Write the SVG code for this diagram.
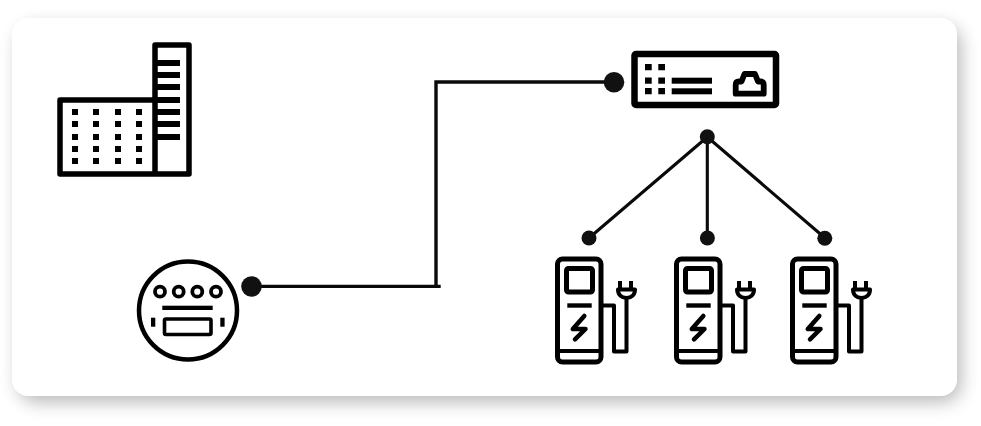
<svg xmlns="http://www.w3.org/2000/svg" width="981" height="426" viewBox="0 0 981 426">
<style>
.s{fill:none;stroke:#000;stroke-linejoin:round}
.k{fill:#000}
.c{fill:none;stroke:#0a0a0a;stroke-width:3.400}
.d{fill:#111}
</style>
<defs>
<filter id="sh" x="-5%" y="-10%" width="110%" height="125%"><feGaussianBlur stdDeviation="9"/></filter>
<g id="charger">
<rect class="s" x="557.500" y="259" width="43.500" height="103" rx="5" stroke-width="5"/>
<rect class="s" x="566.500" y="268.500" width="26" height="23.500" rx="2" stroke-width="5"/>
<rect class="k" x="567.300" y="303.300" width="24.400" height="4.400"/>
<path class="s" d="M584.300 316 572.800 329H585.500L575 339.300" stroke-width="4.500" stroke-linecap="round"/>
<path class="s" d="M557.500 351H601" stroke-width="4"/>
<path class="s" d="M601 305.500H614V351.500H626.500V298" stroke-width="4"/>
<path class="s" d="M620 281V289M631 281V289" stroke-width="4"/>
<path class="s" d="M618 289.500H635C635 295 631 298 626.500 298C622 298 618 295 618 289.500Z" stroke-width="4"/>
</g>
</defs>
<rect width="981" height="426" fill="#fff"/>
<rect x="18" y="26" width="943" height="376" rx="18" fill="#000" opacity=".28" filter="url(#sh)"/>
<rect x="12" y="18" width="945" height="378" rx="16" fill="#fff"/>

<g id="connectors">
<path class="c" d="M250 286.400H440.700M436 286.400V80.300M434.300 82H614"/>
<path class="c" style="stroke-width:3.100" d="M707.300 137 589 238M707.300 137V238M707.300 137 825 238"/>
<circle class="d" cx="707.300" cy="136.700" r="7.500"/>
<circle class="d" cx="589" cy="238" r="7.500"/>
<circle class="d" cx="707.400" cy="238" r="7.500"/>
<circle class="d" cx="824.800" cy="238.200" r="7.500"/>
<circle class="d" cx="251.500" cy="286.500" r="10.300"/>
<circle class="d" cx="614" cy="82.300" r="10.300"/>
</g>

<g id="building">
<path class="s" stroke-width="5.500" d="M155 100H60V174H189V45H155ZM155 100V174"/>
<path class="k" d="M157 60H180V66H157ZM157 72H180V78H157ZM157 84H180V90H157ZM157 97H180V103H157ZM157 109H180V115H157ZM157 121H180V127H157ZM157 134H180V140H157Z"/>
<path class="k" d="M72 109h6v6h-6zM93 109h6v6h-6zM115 109h6v6h-6zM136 109h6v6h-6zM72 121h6v6h-6zM93 121h6v6h-6zM115 121h6v6h-6zM136 121h6v6h-6zM72 134h6v6h-6zM93 134h6v6h-6zM115 134h6v6h-6zM136 134h6v6h-6zM72 146h6v6h-6zM93 146h6v6h-6zM115 146h6v6h-6zM136 146h6v6h-6zM72 158h6v6h-6zM93 158h6v6h-6zM115 158h6v6h-6zM136 158h6v6h-6z"/>
</g>

<g id="meter">
<circle class="s" cx="188" cy="310.500" r="49" stroke-width="4.500"/>
<circle class="s" cx="160" cy="291.700" r="5" stroke-width="3.800"/>
<circle class="s" cx="178.700" cy="291.700" r="5" stroke-width="3.800"/>
<circle class="s" cx="197.300" cy="291.700" r="5" stroke-width="3.800"/>
<circle class="s" cx="216" cy="291.700" r="5" stroke-width="3.800"/>
<rect class="k" x="162.300" y="305.700" width="50.400" height="4.300"/>
<rect class="s" x="164.500" y="319" width="46.500" height="15.500" rx="1.500" stroke-width="3.600"/>
<rect class="k" x="151" y="317.700" width="4.300" height="9"/>
<rect class="k" x="220.300" y="317.700" width="4.300" height="9"/>
</g>

<g id="gateway">
<rect class="s" x="634.500" y="54" width="141.500" height="51" rx="1.500" stroke-width="6.500"/>
<path class="k" d="M645 64h6.700v6.200H645zM658.300 64H665v6.200h-6.700zM645 77.500h6.700v6.300H645zM658.300 77.500H665v6.300h-6.700zM645 88h6.700v6.200H645zM658.300 88H665v6.200h-6.700z"/>
<rect class="k" x="671.700" y="77.700" width="40.300" height="6"/>
<rect class="k" x="671.700" y="88.300" width="40.300" height="6"/>
<path class="s" stroke-width="5.800" d="M735.700 93.700V85Q735.700 81.500 739 81.500H741.500L744.500 74H755L758 81.500H760.500Q763.700 81.500 763.700 85V93.700Z"/>
</g>

<g id="charger1"><use href="#charger"/></g>
<g id="charger2"><use href="#charger" x="119"/></g>
<g id="charger3"><use href="#charger" x="235"/></g>
</svg>
